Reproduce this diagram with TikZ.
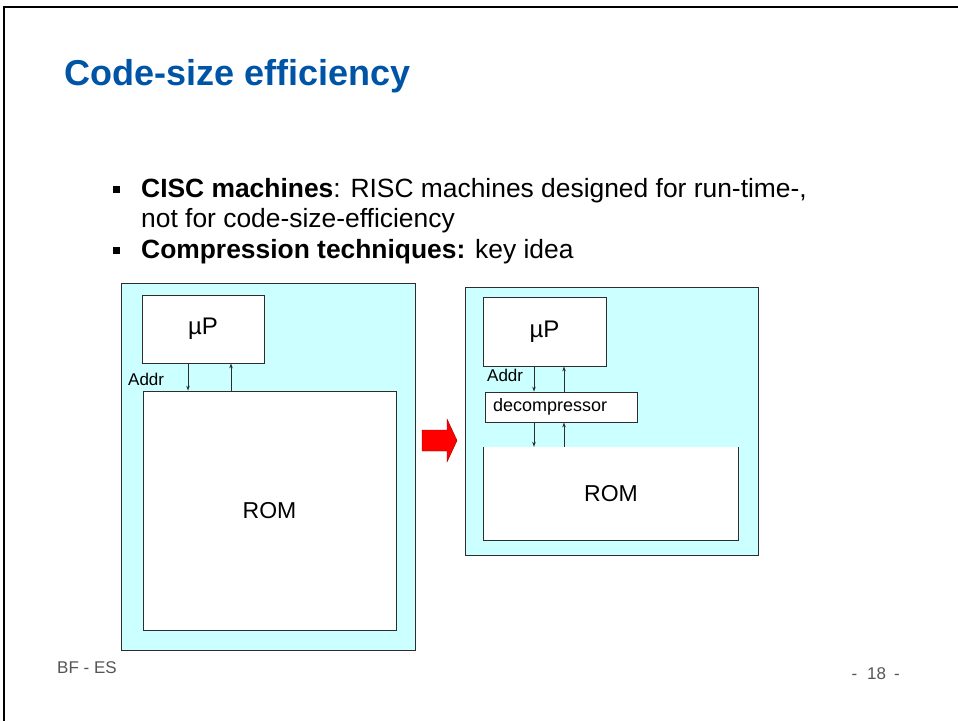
\documentclass[tikz,border=0pt]{standalone}
\usepackage{fontspec}
\setmainfont{Liberation Sans}
\usetikzlibrary{arrows.meta}
\definecolor{titleblue}{RGB}{0,84,166}
\definecolor{boardcyan}{RGB}{204,255,255}
\definecolor{edgegray}{RGB}{45,45,45}
\definecolor{footgray}{RGB}{85,85,85}
\tikzset{
  fs/.style={font=\fontsize{#1}{#1}\selectfont},
  txt/.style={inner sep=0,anchor=base west},
  board/.style={draw=edgegray,fill=boardcyan,line width=0.8pt,inner sep=0},
  unit/.style={draw=edgegray,fill=white,line width=0.8pt,inner sep=0},
  bus/.style={draw=edgegray,line width=0.8pt,-{Stealth[length=5pt,width=3.5pt]}},
  bulletsq/.style={fill=black,minimum size=7pt,inner sep=0},
}
\begin{document}
\begin{tikzpicture}[x=1pt,y=-1pt]
  \useasboundingbox (0,0) rectangle (958,721);
  \draw[line width=2.5pt] (958,7) -- (4,7) -- (4,721);
  \node[txt,fs=36,text=titleblue] (title) at (64,85) {\bfseries Code-size efficiency};
  \node[txt,fs=26.4] (l1) at (141,197) {\textbf{CISC machines}: RISC machines designed for run-time-,};
  \node[txt,fs=26.4] (l2) at (141,227) {not for code-size-efficiency};
  \node[txt,fs=26.4] (l3) at (141,258) {\textbf{Compression techniques:} key idea};
  \node[bulletsq] (b1) at (116.5,189) {};
  \node[bulletsq] (b3) at (116.5,250) {};
  % uncompressed
  \node[board,minimum width=294pt,minimum height=367pt] (boardL) at (268,466.5) {};
  \node[unit,minimum width=122pt,minimum height=68pt,fs=24] (upL) at (203,329) {µP};
  \node[unit,minimum width=253pt,minimum height=239pt,fs=23] (romL) at (269.5,510.5) {ROM};
  \node[txt,fs=17] (addrL) at (128,385) {Addr};
  \coordinate (dnL) at (188,0);
  \coordinate (rtL) at (231,0);
  \draw[bus] (upL.south -| dnL) -- (romL.north -| dnL);
  \draw[bus] (romL.north -| rtL) -- (upL.south -| rtL);
  \draw[fill=red,draw=red!60!black] (422,430) -- (447,430) -- (447,419) -- (457,440.5) -- (447,462) -- (447,451) -- (422,451) -- cycle;
  % compressed
  \node[board,minimum width=293pt,minimum height=268pt] (boardR) at (611.5,421) {};
  \node[unit,minimum width=123pt,minimum height=69pt,fs=24] (upR) at (544.5,331.5) {µP};
  \node[unit,minimum height=30pt,inner xsep=8pt,text width=136pt,align=left,fs=18] (decR) at (561,407) {decompressor};
  \node[fill=white,minimum width=254pt,minimum height=93pt,inner sep=0,fs=23] (romR) at (611,493.5) {ROM};
  \draw[edgegray,line width=0.8pt] (romR.north west) -- (romR.south west) -- (romR.south east) -- (romR.north east);
  \node[txt,fs=17] (addrR) at (487,381) {Addr};
  \coordinate (dnR) at (534,0);
  \coordinate (rtR) at (564,0);
  \draw[bus] (upR.south -| dnR) -- (decR.north -| dnR);
  \draw[bus] (decR.north -| rtR) -- (upR.south -| rtR);
  \draw[bus] (decR.south -| dnR) -- (romR.north -| dnR);
  \draw[bus] (romR.north -| rtR) -- (decR.south -| rtR);
  \node[txt,fs=17,text=footgray] (foot) at (57,673) {BF - ES};
  \node[inner sep=0,anchor=base east,fs=17,text=footgray] (page) at (900,679) {-\hspace{10pt}18\hspace{8pt}-};
\end{tikzpicture}
\end{document}
